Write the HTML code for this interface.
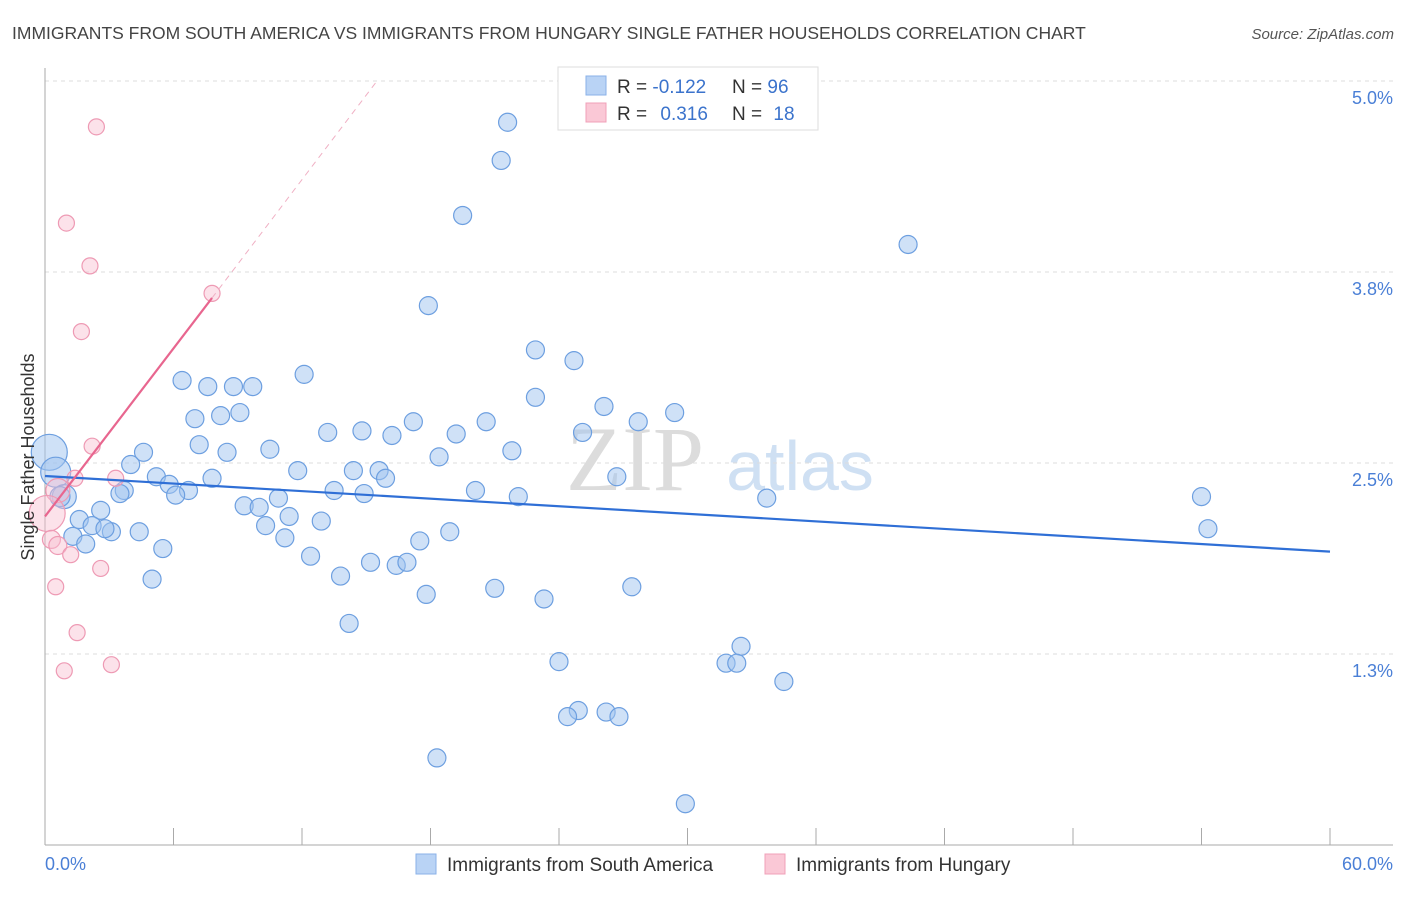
<!DOCTYPE html>
<html><head><meta charset="utf-8"><style>
body{margin:0;background:#fff;font-family:"Liberation Sans",sans-serif;}
svg text{font-family:"Liberation Sans",sans-serif;}
</style></head><body>
<svg id="chart" width="1406" height="892" viewBox="0 0 1406 892" xmlns="http://www.w3.org/2000/svg">
<text x="12" y="39" font-size="17.5" fill="#444">IMMIGRANTS FROM SOUTH AMERICA VS IMMIGRANTS FROM HUNGARY SINGLE FATHER HOUSEHOLDS CORRELATION CHART</text>
<text x="1394" y="39" font-size="15" fill="#555" font-style="italic" text-anchor="end">Source: ZipAtlas.com</text>
<g>
<text x="635" y="490" font-size="92" fill="#dcdcdc" font-family="Liberation Serif" text-anchor="middle" style="font-family:'Liberation Serif',serif">ZIP</text>
<text x="800" y="490" font-size="70" fill="#cfe0f3" text-anchor="middle">atlas</text>
</g>
<g id="grid"></g>
<g id="axes"></g>
<g id="marks"></g>
<text transform="translate(34,457) rotate(-90)" font-size="18" fill="#333" text-anchor="middle">Single Father Households</text>
<g>
<rect x="558" y="67" width="260" height="63" fill="#fff" stroke="#ddd"/>
<rect x="586" y="76" width="20" height="19" fill="#b9d3f5" stroke="#8ab2e8"/>
<rect x="586" y="103" width="20" height="19" fill="#fac8d6" stroke="#f0a0b8"/>
<text x="617" y="93" font-size="19" fill="#333">R = <tspan fill="#3b73cc">-0.122</tspan></text>
<text x="732" y="93" font-size="19" fill="#333">N = <tspan fill="#3b73cc">96</tspan></text>
<text x="617" y="120" font-size="19" fill="#333">R = <tspan fill="#3b73cc" dx="8">0.316</tspan></text>
<text x="732" y="120" font-size="19" fill="#333">N = <tspan fill="#3b73cc" dx="6">18</tspan></text>
</g>
<g>
<rect x="416" y="854" width="20" height="20" fill="#b9d3f5" stroke="#8ab2e8"/>
<text x="447" y="871" font-size="19" fill="#333">Immigrants from South America</text>
<rect x="765" y="854" width="20" height="20" fill="#fac8d6" stroke="#f0a0b8"/>
<text x="796" y="871" font-size="19" fill="#333">Immigrants from Hungary</text>
</g>
</svg>
<script>
const blueX=[21.6,21.3,19.5,40.3,17.9,22.9,24.7,12.1,6.4,7.6,8.8,9.7,22.9,26.1,29.4,9.1,8.2,7.0,27.7,17.2,20.6,14.8,13.2,16.2,19.2,25.1,7.2,8.5,4.6,10.5,21.8,18.4,4.0,11.8,14.4,15.6,5.2,7.8,15.9,26.7,5.8,6.7,6.1,3.7,3.5,13.5,20.1,14.9,22.1,33.7,54.0,10.9,9.3,10.0,11.4,2.6,1.6,12.9,10.3,2.2,3.1,4.4,2.8,18.9,54.3,1.3,1.9,11.2,17.5,5.5,12.4,15.2,16.4,16.9,13.8,5.0,27.4,21.0,17.8,23.3,14.2,32.5,24.0,31.8,32.3,34.5,24.9,24.4,26.2,26.8,18.3,29.9,0.2,0.5,0.9,0.7];
const blueY=[4.73,4.48,4.12,3.93,3.53,3.24,3.17,3.08,3.04,3.0,3.0,3.0,2.93,2.87,2.83,2.83,2.81,2.79,2.77,2.77,2.77,2.71,2.70,2.68,2.69,2.70,2.62,2.57,2.57,2.59,2.58,2.54,2.49,2.45,2.45,2.45,2.41,2.40,2.40,2.41,2.36,2.32,2.29,2.32,2.30,2.32,2.32,2.30,2.28,2.27,2.28,2.27,2.22,2.21,2.15,2.19,2.13,2.12,2.09,2.09,2.05,2.05,2.07,2.05,2.07,2.02,1.97,2.01,1.99,1.94,1.89,1.85,1.83,1.85,1.76,1.74,1.69,1.68,1.64,1.61,1.45,1.30,1.20,1.19,1.19,1.07,0.88,0.84,0.87,0.84,0.57,0.27,2.57,2.44,2.28,2.28];
const blueR=[9,9,9,9,9,9,9,9,9,9,9,9,9,9,9,9,9,9,9,9,9,9,9,9,9,9,9,9,9,9,9,9,9,9,9,9,9,9,9,9,9,9,9,9,9,9,9,9,9,9,9,9,9,9,9,9,9,9,9,9,9,9,9,9,9,9,9,9,9,9,9,9,9,9,9,9,9,9,9,9,9,9,9,9,9,9,9,9,9,9,9,9,18,15,12,10];
const pinkX=[2.4,1.0,2.1,7.8,1.7,2.2,1.4,3.3,0.6,0.1,0.3,0.6,1.2,2.6,0.5,1.5,3.1,0.9];
const pinkY=[4.70,4.07,3.79,3.61,3.36,2.61,2.40,2.40,2.32,2.17,2.0,1.96,1.90,1.81,1.69,1.39,1.18,1.14];
const pinkR=[8,8,8,8,8,8,8,8,12,18,9,9,8,8,8,8,8,8];
const yTicks=[5.0,3.75,2.5,1.25];
const yTickLabels=["5.0%","3.8%","2.5%","1.3%"];
const xTicks=[0,6,12,18,24,30,36,42,48,54,60];
const blueTrend=[[0,2.415],[60,1.92]];
const pinkTrend=[[0,2.15],[7.8,3.58]];
const pinkDash=[[7.8,3.58],[15.5,5.0]];
const X0=45,X1=1330,Y0=845,PXY=152.8;
const sx=v=>X0+(v/60)*(X1-X0), sy=v=>Y0-v*PXY;
const NS="http://www.w3.org/2000/svg";
function mk(tag,attrs,parent){const e=document.createElementNS(NS,tag);for(const k in attrs)e.setAttribute(k,attrs[k]);parent.appendChild(e);return e;}
const grid=document.getElementById('grid'),axes=document.getElementById('axes'),marks=document.getElementById('marks');
yTicks.forEach((t,i)=>{
 const l=mk('line',{x1:X0,x2:1393,y1:sy(t),y2:sy(t),stroke:'#ddd','stroke-dasharray':'4,4'},grid);
 
 
 const tx=mk('text',{x:1393,y:sy(t)+23,'font-size':18,fill:'#4a7fd6','text-anchor':'end'},axes);
 tx.textContent=yTickLabels[i];
 
 
});
const ax=mk('line',{x1:X0,x2:X0,y1:68,y2:Y0,stroke:'#aaa'},axes);


const bx=mk('line',{x1:X0,x2:1393,y1:Y0,y2:Y0,stroke:'#aaa'},axes);


xTicks.forEach(t=>{
 const l=mk('line',{x1:sx(t),x2:sx(t),y1:Y0,y2:Y0-17,stroke:'#aaa'},axes);
 
 
});
const xl0=mk('text',{x:45,y:870,'font-size':18,fill:'#4a7fd6'},axes);xl0.textContent='0.0%';


const xl1=mk('text',{x:1393,y:870,'font-size':18,fill:'#4a7fd6','text-anchor':'end'},axes);xl1.textContent='60.0%';


blueX.forEach((v,i)=>{
 const c=mk('circle',{cx:sx(v),cy:sy(blueY[i]),r:blueR[i],fill:'rgba(160,196,240,0.5)',stroke:'#6d9fe0','stroke-width':1.2},marks);
 
 
});
pinkX.forEach((v,i)=>{
 const c=mk('circle',{cx:sx(v),cy:sy(pinkY[i]),r:pinkR[i],fill:'rgba(248,190,208,0.45)',stroke:'#ee9ab4','stroke-width':1.2},marks);
 
 
});
const bt=mk('line',{x1:sx(blueTrend[0][0]),y1:sy(blueTrend[0][1]),x2:sx(blueTrend[1][0]),y2:sy(blueTrend[1][1]),stroke:'#2f6fd6','stroke-width':2.2},marks);


const pt=mk('line',{x1:sx(pinkTrend[0][0]),y1:sy(pinkTrend[0][1]),x2:sx(pinkTrend[1][0]),y2:sy(pinkTrend[1][1]),stroke:'#e8668f','stroke-width':2.2},marks);


const pd=mk('line',{x1:sx(pinkDash[0][0]),y1:sy(pinkDash[0][1]),x2:sx(pinkDash[1][0]),y2:sy(pinkDash[1][1]),stroke:'#f0b0c4','stroke-width':1,'stroke-dasharray':'6,5'},marks);


</script>
</body></html>
